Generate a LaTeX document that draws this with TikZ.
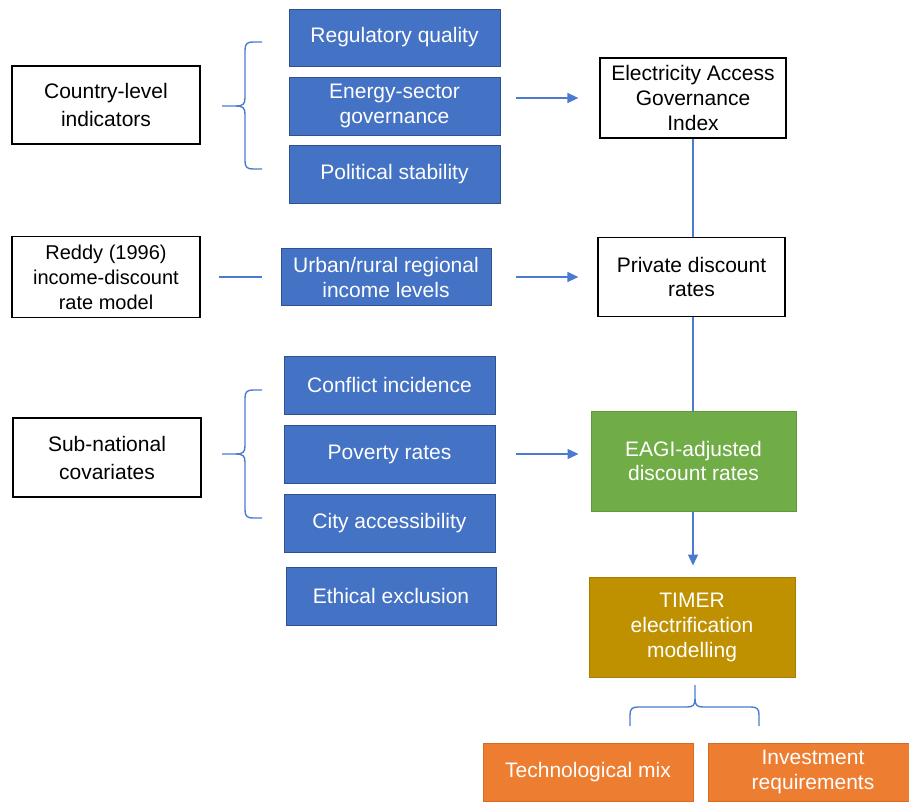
\documentclass[tikz,border=0pt]{standalone}
\usepackage{fontspec}
\setmainfont{Liberation Sans}
\usetikzlibrary{arrows.meta}
\definecolor{bluefill}{HTML}{4472C4}
\definecolor{blueedge}{HTML}{2F528F}
\definecolor{conn}{HTML}{4A7BD0}
\definecolor{greenfill}{HTML}{70AD47}
\definecolor{greenedge}{HTML}{5E9A3A}
\definecolor{goldfill}{HTML}{BF9000}
\definecolor{goldedge}{HTML}{A67D00}
\definecolor{orangefill}{HTML}{ED7D31}
\definecolor{orangeedge}{HTML}{D96B20}
\tikzset{
  x=1pt, y=-1pt,
  every node/.style={inner sep=0pt, align=center, font=\fontsize{21}{25}\selectfont},
  wide/.style={font=\fontsize{21}{28}\selectfont},
  tight/.style={font=\fontsize{21}{24}\selectfont},
  whitebox/.style={draw=black, line width=1.3pt, fill=white, text=black},
  bluebox/.style={draw=blueedge, line width=1pt, fill=bluefill, text=white},
  greenbox/.style={draw=greenedge, line width=1pt, fill=greenfill, text=white},
  goldbox/.style={draw=goldedge, line width=1pt, fill=goldfill, text=white},
  orangebox/.style={draw=orangeedge, line width=1pt, fill=orangefill, text=white},
  conline/.style={draw=conn, line width=1.5pt},
  arr/.style={conline, -{Triangle[length=11pt, width=10pt]}},
  bracepath/.style={draw=conn, line width=1.4pt, line join=round}
}
\begin{document}
\begin{tikzpicture}
\useasboundingbox (0,0) rectangle (909,801);
\clip (0,0) rectangle (909,801);

% left column
\node[whitebox, wide, minimum width=188pt, minimum height=78pt] (country) at (106,105) {Country-level\\indicators};
\node[whitebox, minimum width=188pt, minimum height=81pt, font=\fontsize{20}{25}\selectfont] (reddy) at (106,277) {Reddy (1996)\\income-discount\\rate model};
\node[whitebox, wide, minimum width=188pt, minimum height=79pt] (subnat) at (107,457.5) {Sub-national\\covariates};

% blue column
\node[bluebox, minimum width=211pt, minimum height=57pt] (rq) at (394.5,37.5) {Regulatory quality};
\node[bluebox, minimum width=211pt, minimum height=58pt] (esg) at (394.5,106) {Energy-sector\\governance};
\node[bluebox, minimum width=211pt, minimum height=58pt] (ps) at (394.5,174) {Political stability};
\node[bluebox, minimum width=210pt, minimum height=57pt] (urban) at (386,277) {Urban/rural regional\\income levels};
\node[bluebox, minimum width=211pt, minimum height=58pt] (conflict) at (389.5,385) {Conflict incidence};
\node[bluebox, minimum width=211pt, minimum height=58pt] (poverty) at (389.5,454) {Poverty rates};
\node[bluebox, minimum width=211pt, minimum height=58pt] (city) at (389.5,523) {City accessibility};
\node[bluebox, minimum width=210pt, minimum height=58pt] (ethical) at (391,596) {Ethical exclusion};

% right column
\node[whitebox, minimum width=186pt, minimum height=80pt] (eagi) at (693,98) {Electricity Access\\Governance\\Index};
\node[whitebox, tight, minimum width=187pt, minimum height=79pt] (private) at (691.5,277) {Private discount\\rates};
\node[greenbox, tight, minimum width=205pt, minimum height=100pt] (adj) at (693.5,461) {EAGI-adjusted\\discount rates};
\node[goldbox, minimum width=206pt, minimum height=100pt] (timer) at (692,627) {TIMER\\electrification\\modelling};
\node[orangebox, minimum width=210pt, minimum height=58pt] (tech) at (588,772) {Technological mix};
\node[orangebox, minimum width=210pt, minimum height=58pt] (invest) at (813,772) {Investment\\requirements};

% connectors
\draw[arr, shorten <=15pt, shorten >=21pt] (esg.east |- eagi.west) -- (eagi.west);
\draw[conline, shorten <=18pt, shorten >=19pt] (reddy.east) -- (urban.west);
\draw[arr, shorten <=24pt, shorten >=19pt] (urban.east) -- (urban.east -| private.west);
\draw[arr, shorten <=20pt, shorten >=12pt] (poverty.east) -- (poverty.east -| adj.west);
\draw[conline] (eagi.south) -- (eagi.south |- private.north);
\draw[conline] (private.south -| eagi.south) -- (eagi.south |- adj.north);
\draw[arr, shorten >=11pt] (adj.south -| eagi.south) -- (eagi.south |- timer.north);

% braces
\draw[bracepath] (262,42) -- (253,42) .. controls (247,42) and (245,44) .. (245,50) -- (245,98)
  .. controls (245,104) and (243,106) .. (236,106) -- (222,106);
\draw[bracepath] (262,169) -- (253,169) .. controls (247,169) and (245,167) .. (245,161) -- (245,114)
  .. controls (245,108) and (243,106) .. (236,106);
\draw[bracepath] (262,390) -- (253,390) .. controls (247,390) and (245,392) .. (245,398) -- (245,446)
  .. controls (245,452) and (243,454) .. (236,454) -- (222,454);
\draw[bracepath] (262,518) -- (253,518) .. controls (247,518) and (245,516) .. (245,510) -- (245,462)
  .. controls (245,456) and (243,454) .. (236,454);
\draw[bracepath] (630,726) -- (630,715) .. controls (630,709) and (632,707) .. (638,707) -- (687,707)
  .. controls (693,707) and (695,705) .. (695,699) -- (695,685);
\draw[bracepath] (759,726) -- (759,715) .. controls (759,709) and (757,707) .. (751,707) -- (703,707)
  .. controls (697,707) and (695,705) .. (695,699);
\end{tikzpicture}
\end{document}
